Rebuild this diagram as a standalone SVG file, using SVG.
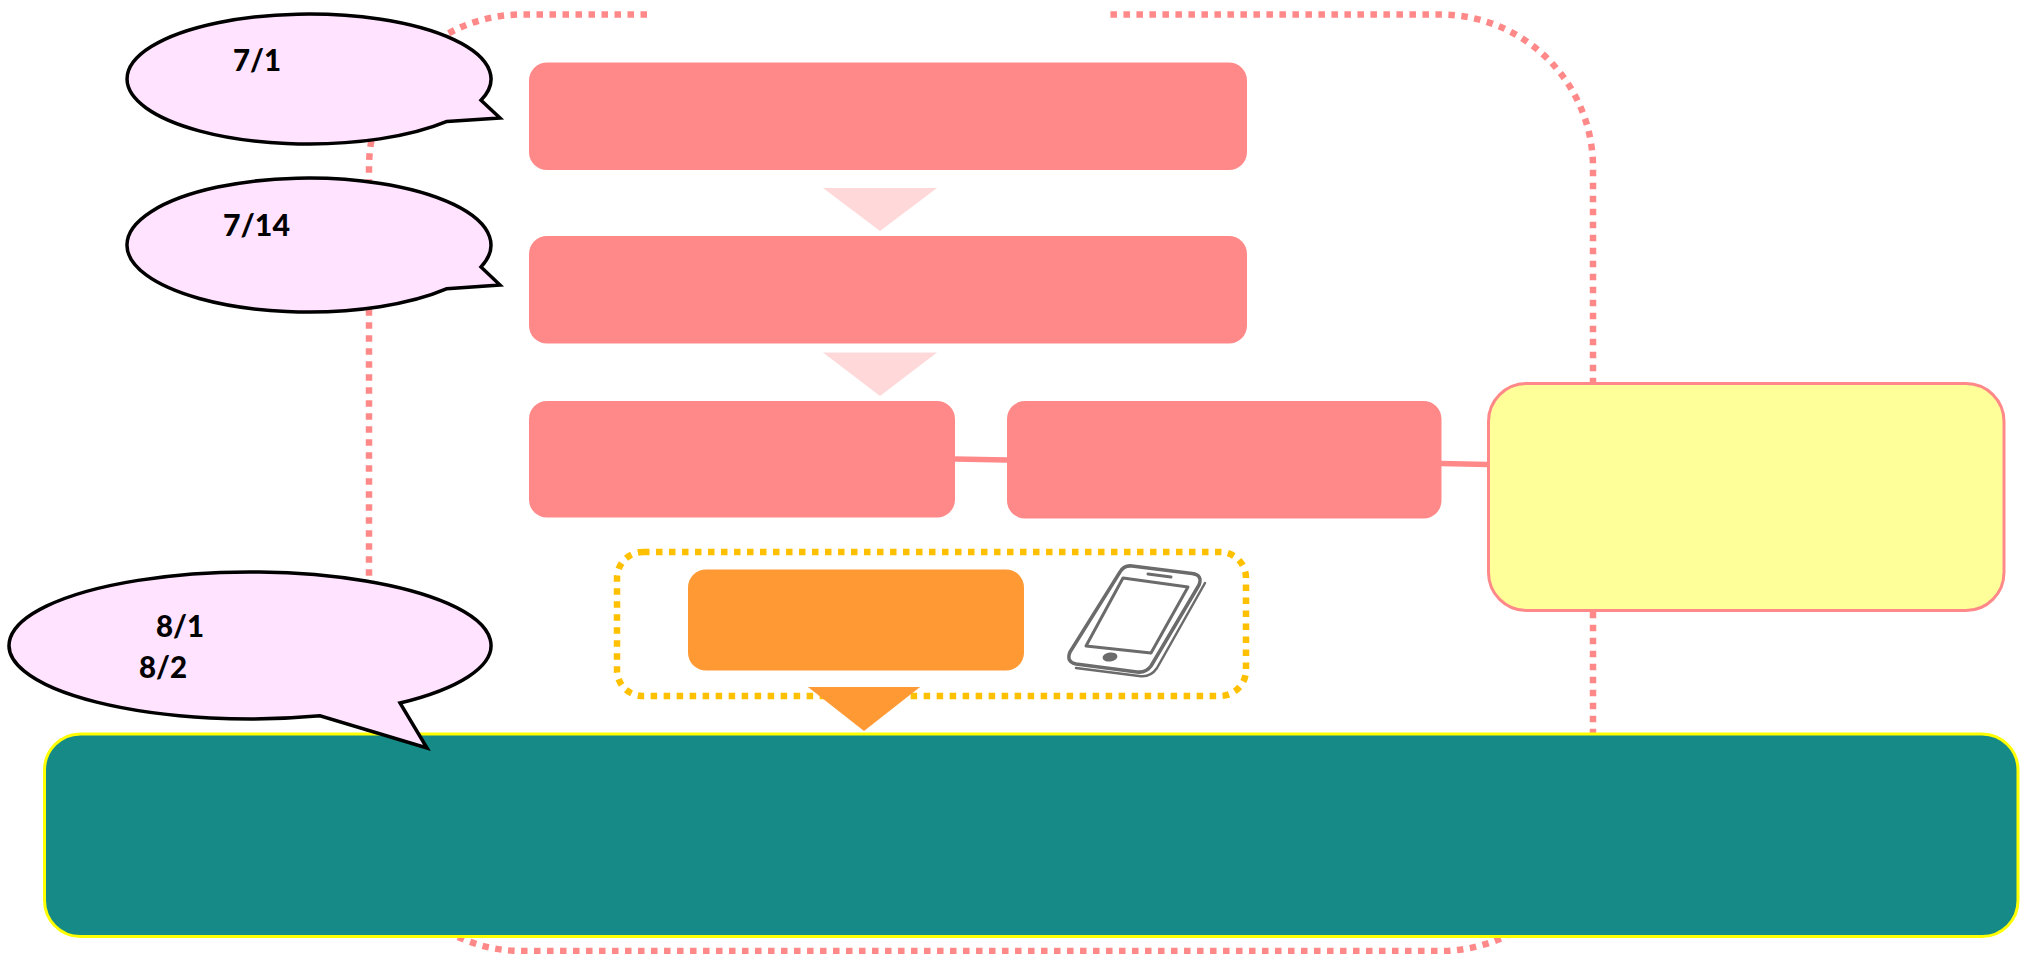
<svg xmlns="http://www.w3.org/2000/svg" width="2029" height="954" viewBox="0 0 2029 954">
<style>
.pink{fill:#FF8989}
.tri{fill:#FFD9D9}
.orange{fill:#FF9933}
.bubble{fill:#FFE3FF;stroke:#000;stroke-width:3.500;stroke-linejoin:miter}
.date{font-family:"Lato","Noto Sans",sans-serif;font-weight:900;font-size:31px;fill:#000}
.frame{fill:none;stroke:#FF8989;stroke-width:6.500;stroke-dasharray:6.500 6.500}
.link{fill:none;stroke:#FF8989;stroke-width:5.500}
.ph{fill:none;stroke:#6B6B6B;stroke-linejoin:round;stroke-linecap:round}
</style>
<g id="connectors">
<path class="frame" d="M647 14.500H522A153 153 0 0 0 369 167.500V798A153 153 0 0 0 522 951H1440A153 153 0 0 0 1593 798V167.500A153 153 0 0 0 1440 14.500H1106"/>
<path class="link" d="M955 459L1007 460"/>
<path class="link" d="M1441 463.500L1488 464.500"/>
</g>
<g id="box-1"><rect class="pink" x="529" y="62.500" width="718" height="107.500" rx="18"/></g>
<g id="arrow-1"><polygon class="tri" points="823,188 937,188 880,231"/></g>
<g id="box-2"><rect class="pink" x="529" y="236" width="718" height="107.500" rx="18"/></g>
<g id="arrow-2"><polygon class="tri" points="823,352.500 937,352.500 880,396"/></g>
<g id="box-3"><rect class="pink" x="529" y="401" width="426" height="116.500" rx="18"/></g>
<g id="box-4"><rect class="pink" x="1007" y="401" width="434.500" height="117.500" rx="18"/></g>
<g id="box-yellow"><rect x="1488.500" y="383.500" width="515.500" height="227" rx="38" fill="#FFFF99" stroke="#FF8989" stroke-width="3"/></g>
<g id="group-orange">
<rect x="617" y="552" width="629" height="144" rx="26" fill="none" stroke="#FFC000" stroke-width="6.500" stroke-dasharray="6.500 6.500"/>
</g>
<g id="box-orange"><rect class="orange" x="688" y="569.500" width="336" height="101" rx="18"/></g>
<g id="phone">
<path class="ph" stroke-width="3.500" d="M1132 566L1192 573.500Q1203 575 1199 585L1151 666Q1146 673 1137 672L1076 664Q1066 662 1070 652L1120 572Q1124 565 1132 566Z"/>
<path class="ph" stroke-width="3" d="M1123 578L1188 587L1151 653L1086 646Z"/>
<path class="ph" stroke-width="3" d="M1148 574L1171 577"/>
<ellipse cx="1110" cy="657" rx="7.500" ry="4.500" transform="rotate(-8 1110 657)" fill="#6B6B6B"/>
<path class="ph" stroke-width="2.500" d="M1205 583L1157 668Q1150 678 1139 676L1076 668"/>
</g>
<g id="box-green"><rect x="44.500" y="734" width="1973.500" height="202.500" rx="36" fill="#168A87" stroke="#FFFF00" stroke-width="3"/></g>
<g id="arrow-orange"><polygon class="orange" points="808,687 920,687 864,731"/></g>
<g id="bubble-1">
<path class="bubble" d="M481 100.300A182 65 0 1 0 447 121.400L500 118Z"/>
<text class="date" x="233" y="71" textLength="48" lengthAdjust="spacingAndGlyphs">7/1</text>
</g>
<g id="bubble-2">
<path class="bubble" d="M481 266.900A182 67 0 1 0 447 288.700L500 285Z"/>
<text class="date" x="223" y="236" textLength="67" lengthAdjust="spacingAndGlyphs">7/14</text>
</g>
<g id="bubble-3">
<path class="bubble" d="M400 703A241 73.500 0 1 0 320 715.800L427 748Z"/>
<text class="date" x="156" y="637" textLength="48" lengthAdjust="spacingAndGlyphs">8/1</text>
<text class="date" x="139" y="678" textLength="48" lengthAdjust="spacingAndGlyphs">8/2</text>
</g>
</svg>
